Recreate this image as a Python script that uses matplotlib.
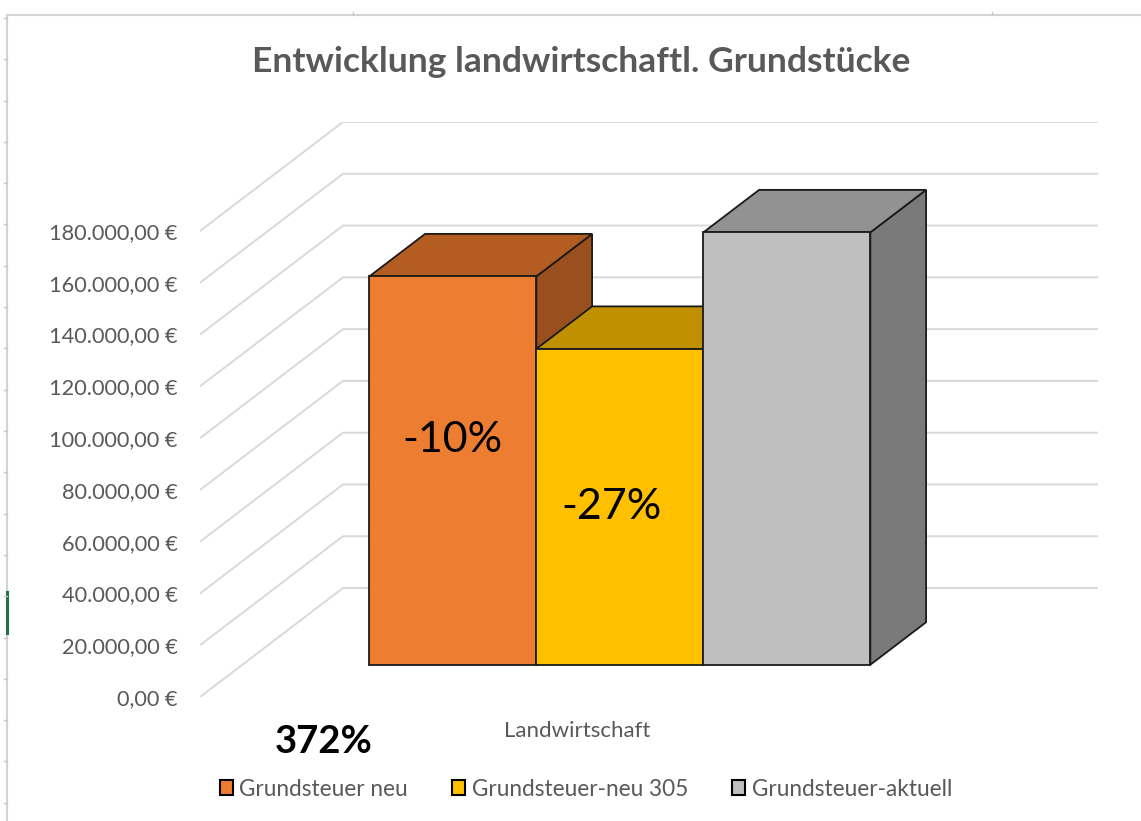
import matplotlib
matplotlib.use("Agg")
import matplotlib.pyplot as plt
from matplotlib.patches import Polygon, Patch
from matplotlib.lines import Line2D

# ---------------- data ----------------
title = "Entwicklung landwirtschaftl. Grundstücke"
category = "Landwirtschaft"
series_names = ["Grundsteuer neu", "Grundsteuer-neu 305", "Grundsteuer-aktuell"]
series_values = [150000, 122000, 167000]
change_labels = ["-10%", "-27%", ""]
tick_values = [0, 20000, 40000, 60000, 80000, 100000, 120000, 140000, 160000, 180000]
tick_labels = ["0,00 €", "20.000,00 €", "40.000,00 €", "60.000,00 €", "80.000,00 €",
               "100.000,00 €", "120.000,00 €", "140.000,00 €", "160.000,00 €", "180.000,00 €"]
extra_label = "372%"

front_colors = ["#ED7D31", "#FFC000", "#BFBFBF"]
top_colors = ["#B45D22", "#C09000", "#929292"]
side_colors = ["#9A4F1E", "#A07800", "#7A7A7A"]

# ---------------- figure ----------------
W, H = 1141, 821
FONT = ["Lato", "DejaVu Sans"]
plt.rcParams["font.family"] = FONT
fig = plt.figure(figsize=(W / 100, H / 100), dpi=100)
fig.patch.set_facecolor("white")

ax = fig.add_axes([200 / W, (H - 697) / H, 898 / W, 575 / H])
YMAX = 180000 * 575 / 466          # value range of axes height
DY = YMAX - 180000                 # depth offset in value units
DX = 143 / 167                     # depth offset in bar-width units
FLOOR_W = 755 / 167
ax.set_xlim(0, 898 / 167)
ax.set_ylim(0, YMAX)
for s in ax.spines.values():
    s.set_visible(False)
ax.patch.set_visible(False)
ax.set_xticks([])


def proj(x, v, d):
    return (x + d * DX, v + d * DY)


# wall gridlines
for v in tick_values:
    p0 = proj(0, v, 0)
    p1 = proj(0, v, 1)
    p2 = proj(FLOOR_W, v, 1)
    ax.plot([p0[0], p1[0], p2[0]], [p0[1], p1[1], p2[1]], color="#D9D9D9",
            lw=1.4, zorder=1, solid_capstyle="butt")

ax.set_yticks(tick_values)
ax.set_yticklabels(tick_labels)
ax.tick_params(axis="y", length=0, pad=16, labelsize=15.7, labelcolor="#595959")

# bars
d0, d1 = 0.296, 0.686
n = len(series_values)
gap = (FLOOR_W - n) / 2
for i, val in enumerate(series_values):
    x0 = gap + i
    x1 = x0 + 1
    front = [proj(x0, 0, d0), proj(x1, 0, d0), proj(x1, val, d0), proj(x0, val, d0)]
    top = [proj(x0, val, d0), proj(x1, val, d0), proj(x1, val, d1), proj(x0, val, d1)]
    side = [proj(x1, 0, d0), proj(x1, 0, d1), proj(x1, val, d1), proj(x1, val, d0)]
    z = 3 + i * 3
    for poly, col, zz in [(side, side_colors[i], z), (top, top_colors[i], z + 1), (front, front_colors[i], z + 2)]:
        ax.add_patch(Polygon(poly, closed=True, facecolor=col, edgecolor="#1A1A1A",
                             lw=1.3, joinstyle="miter", zorder=zz))
    if change_labels[i]:
        frac = 0.58 if i == 0 else 0.5
        xoff = 0.5 if i == 0 else 0.45
        cx, cy = proj(x0 + xoff, val * frac, d0)
        ax.text(cx, cy, change_labels[i], ha="center", va="center", fontsize=31,
                color="black", zorder=20)

# category label
ax.annotate(category, xy=(FLOOR_W / 2, 0), xytext=(0, -24.5), textcoords="offset points",
            ha="center", va="center", fontsize=16, color="#595959", annotation_clip=False)

# title
fig.text(581 / W, 1 - 62 / H, title, ha="center", va="center", fontsize=25.5,
         fontweight="bold", color="#595959")

# extra label
fig.text(324 / W, 1 - 742 / H, extra_label, ha="center", va="center", fontsize=27.5,
         fontweight="bold", color="black")

# legend
handles = [Patch(facecolor=c, edgecolor="black", lw=1.5) for c in front_colors]
fig.legend(handles, series_names, loc="center", bbox_to_anchor=(586 / W, 1 - 789 / H),
           ncol=3, frameon=False, fontsize=16.3, handlelength=0.57, handleheight=0.65,
           handletextpad=0.3, columnspacing=1.95, labelcolor="#595959")

# spreadsheet / chart-area decorations
fig.add_artist(Line2D([7 / W, 1], [1 - 15 / H, 1 - 15 / H], color="#D4D4D4", lw=1.5))
fig.add_artist(Line2D([7 / W, 7 / W], [0, 1 - 15 / H], color="#D4D4D4", lw=1.5))
fig.add_artist(Line2D([7 / W, 7 / W], [1 - 592 / H, 1 - 633 / H], color="#217346", lw=2.2))
for k in range(20):
    yy = 18 + k * 41.3
    fig.add_artist(Line2D([4 / W, 7 / W], [1 - yy / H, 1 - yy / H], color="#C8C8C8", lw=1))
for xx in [353, 992]:
    fig.add_artist(Line2D([xx / W, xx / W], [1 - 12 / H, 1 - 15 / H], color="#C8C8C8", lw=1))

fig.savefig("out.png", dpi=100)
